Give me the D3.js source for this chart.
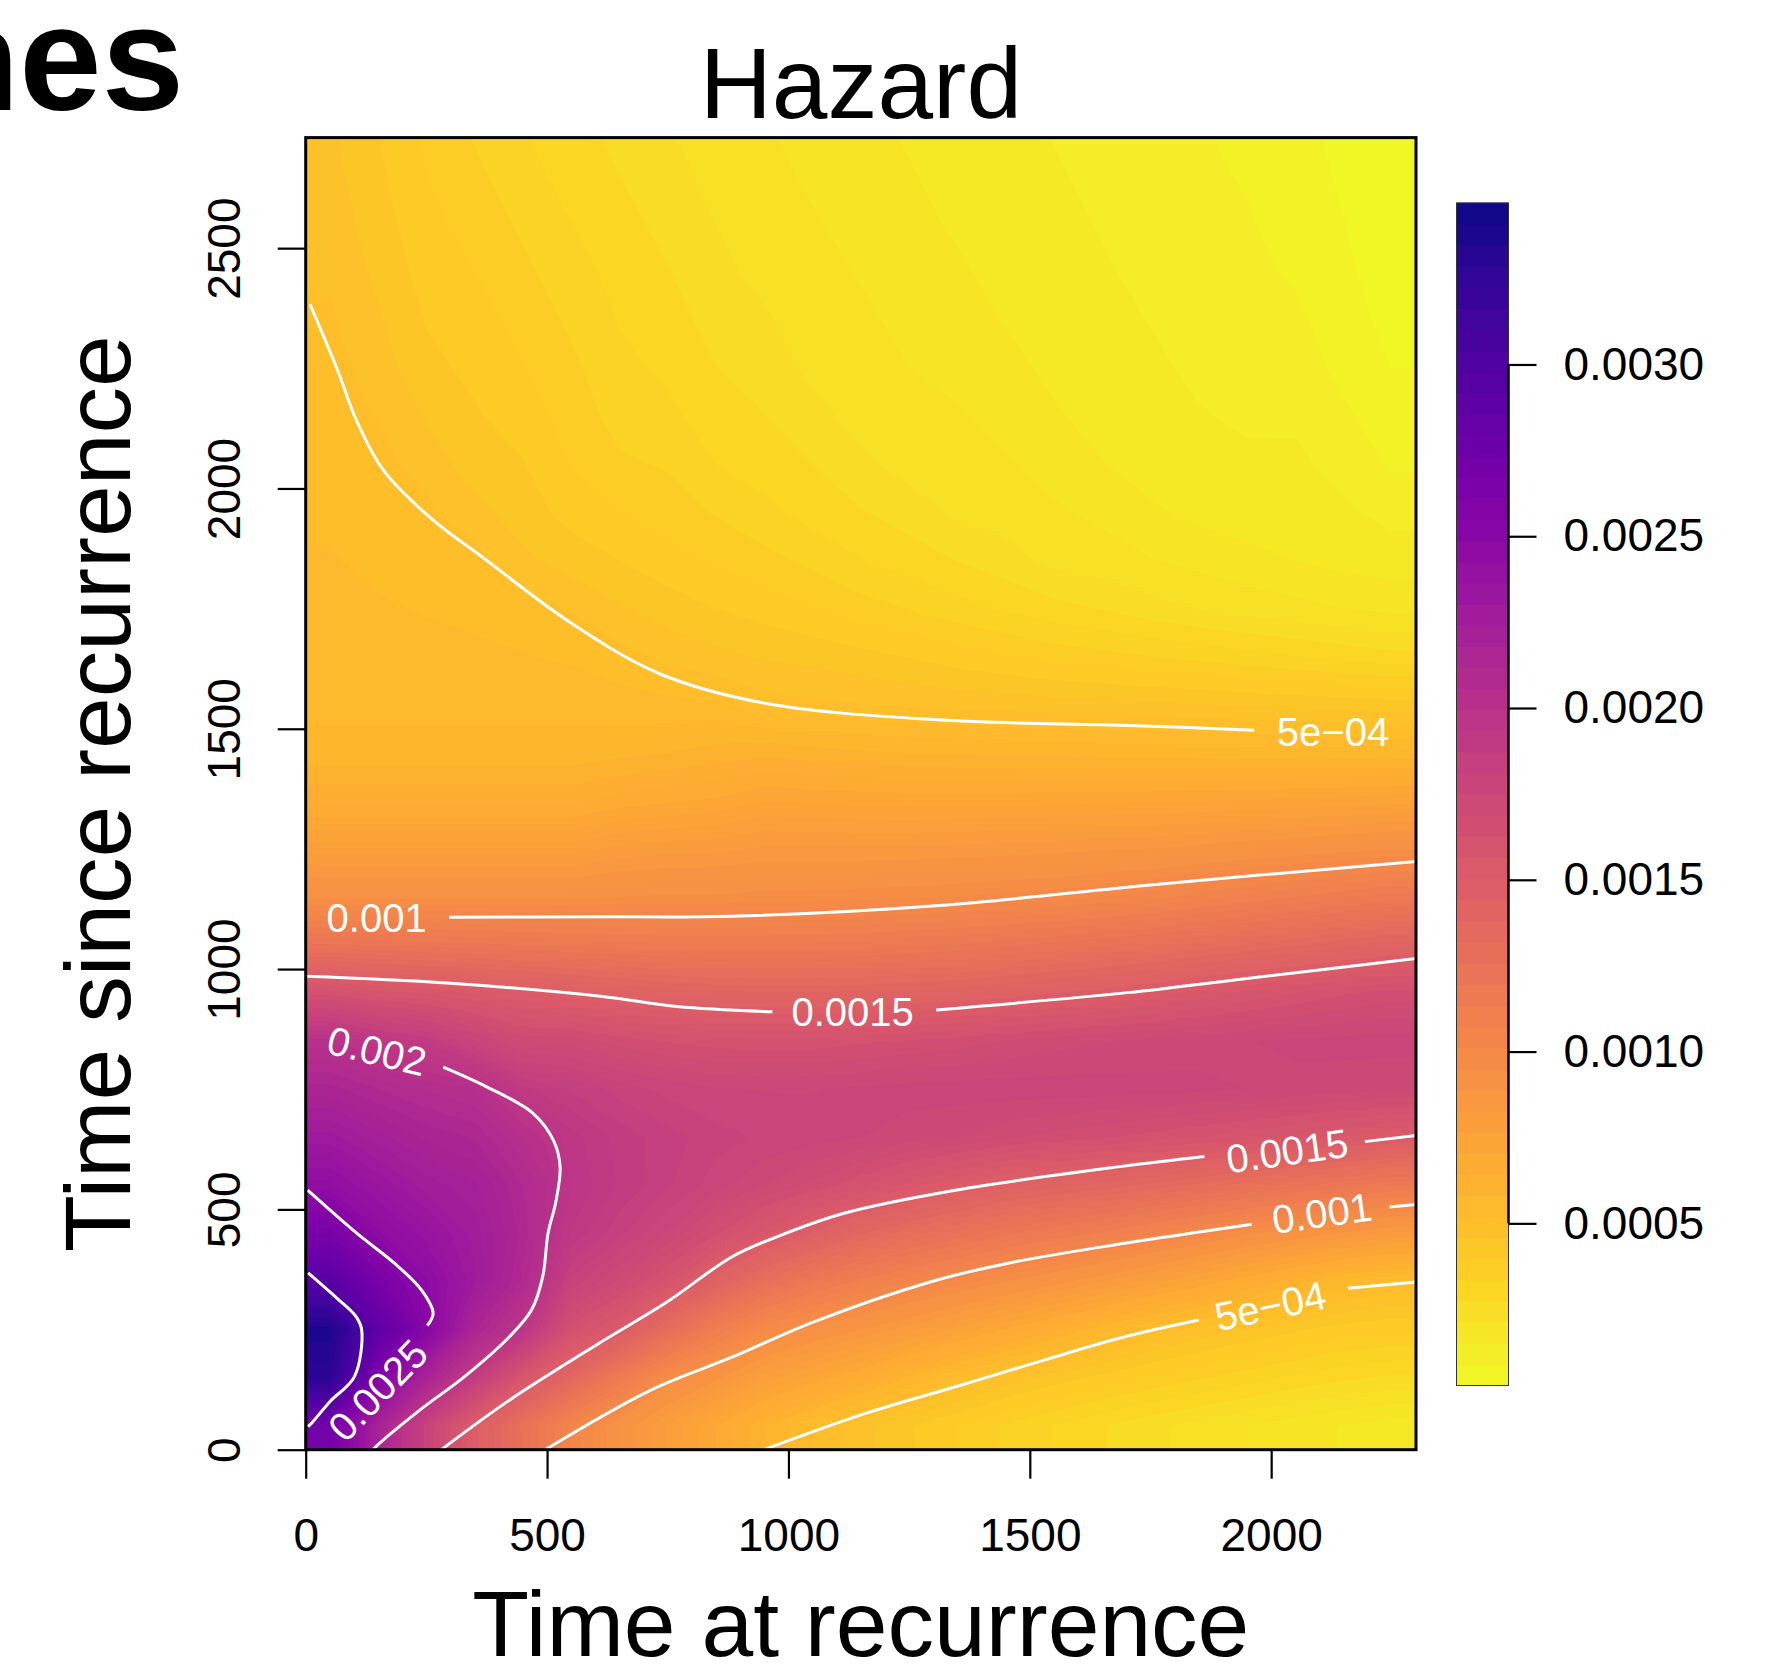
<!DOCTYPE html>
<html>
<head>
<meta charset="utf-8">
<script src="https://cdn.jsdelivr.net/npm/d3@7"></script>
<style>
  body { margin: 0; background: #fff; }
  svg text { font-family: "Liberation Sans", Arial, Helvetica, sans-serif; }
</style>
</head>
<body>
<svg id="chart" width="1769" height="1664"></svg>
<script>
// axis ranges and ticks
const xDomain = [0, 2300];
const yDomain = [0, 2730];
const xTicks = [0, 500, 1000, 1500, 2000];
const xTickLabels = ["0", "500", "1000", "1500", "2000"];
const yTicks = [0, 500, 1000, 1500, 2000, 2500];
const yTickLabels = ["0", "500", "1000", "1500", "2000", "2500"];

// hazard values are kept in units of 1e-4
const zRange = [0.28, 34.7];
const hazardTicks = [5, 10, 15, 20, 25, 30];
const hazardTickLabels = ["0.0005", "0.0010", "0.0015", "0.0020", "0.0025", "0.0030"];

// cell centres of the hazard grid
const gridX = [50, 150, 250, 350, 450, 550, 650, 750, 850, 950, 1050, 1150,
               1250, 1350, 1450, 1550, 1650, 1750, 1850, 1950, 2050, 2150, 2250];
const gridY = [2750, 2650, 2550, 2450, 2350, 2250, 2150, 2050, 1950, 1850, 1750, 1650, 1550, 1450,
               1350, 1250, 1150, 1050, 950, 850, 750, 650, 550, 450, 350, 250, 150, 50];

// one row per gridY entry (top to bottom), one value per gridX entry
const hazardRows = [
  [4.6, 4.2, 3.77, 3.45, 3.17, 2.91, 2.69, 2.47, 2.28, 2.13, 1.98, 1.84, 1.70, 1.58, 1.48, 1.38, 1.28, 1.17, 1.07, 0.97, 0.8, 0.6, 0.35],
  [4.68, 4.28, 3.85, 3.58, 3.3, 3.0, 2.8, 2.58, 2.34, 2.2, 2.05, 1.92, 1.78, 1.62, 1.53, 1.43, 1.33, 1.22, 1.12, 1.02, 0.86, 0.65, 0.4],
  [4.76, 4.37, 3.95, 3.72, 3.44, 3.16, 2.92, 2.7, 2.45, 2.27, 2.13, 2.0, 1.86, 1.7, 1.58, 1.48, 1.38, 1.27, 1.17, 1.08, 0.92, 0.71, 0.46],
  [4.85, 4.47, 4.06, 3.86, 3.58, 3.3, 3.03, 2.82, 2.56, 2.34, 2.2, 2.08, 1.94, 1.81, 1.62, 1.54, 1.43, 1.33, 1.22, 1.14, 1.0, 0.77, 0.52],
  [4.95, 4.6, 4.18, 4.0, 3.72, 3.44, 3.13, 2.94, 2.68, 2.5, 2.27, 2.16, 2.02, 1.92, 1.73, 1.6, 1.49, 1.39, 1.28, 1.2, 1.13, 0.84, 0.6],
  [5.03, 4.73, 4.3, 4.12, 3.88, 3.58, 3.25, 3.07, 2.81, 2.65, 2.36, 2.24, 2.1, 2.03, 1.87, 1.66, 1.55, 1.45, 1.35, 1.28, 1.24, 0.95, 0.7],
  [5.09, 4.88, 4.52, 4.24, 4.05, 3.68, 3.38, 3.25, 2.95, 2.81, 2.58, 2.31, 2.2, 2.13, 2.0, 1.8, 1.61, 1.52, 1.42, 1.36, 1.35, 1.12, 0.82],
  [5.15, 5.02, 4.75, 4.38, 4.22, 3.83, 3.55, 3.47, 3.15, 2.97, 2.8, 2.53, 2.32, 2.24, 2.14, 1.98, 1.77, 1.6, 1.5, 1.45, 1.46, 1.3, 1.0],
  [5.21, 5.1, 4.99, 4.66, 4.38, 4.07, 3.86, 3.66, 3.47, 3.25, 3.01, 2.83, 2.64, 2.38, 2.28, 2.15, 2.02, 1.81, 1.66, 1.56, 1.57, 1.47, 1.29],
  [5.27, 5.19, 5.11, 5.02, 4.63, 4.39, 4.2, 3.99, 3.8, 3.61, 3.41, 3.17, 2.98, 2.79, 2.6, 2.34, 2.26, 2.12, 2.0, 1.87, 1.75, 1.64, 1.57],
  [5.33, 5.28, 5.23, 5.17, 5.08, 4.88, 4.59, 4.37, 4.2, 4.05, 3.86, 3.64, 3.48, 3.28, 3.1, 2.92, 2.78, 2.58, 2.43, 2.3, 2.21, 2.1, 2.02],
  [5.39, 5.37, 5.34, 5.32, 5.27, 5.2, 5.04, 4.82, 4.65, 4.51, 4.44, 4.32, 4.18, 4.02, 3.88, 3.72, 3.62, 3.51, 3.4, 3.28, 3.16, 3.03, 2.92],
  [5.47, 5.47, 5.47, 5.47, 5.47, 5.47, 5.4, 5.35, 5.3, 5.04, 4.97, 4.91, 4.85, 4.8, 4.76, 4.71, 4.67, 4.62, 4.57, 4.52, 4.46, 4.41, 4.34],
  [5.75, 5.75, 5.75, 5.75, 5.75, 5.75, 5.85, 5.95, 6.1, 6.2, 6.1, 6.02, 5.94, 5.91, 5.87, 5.85, 5.83, 5.81, 5.78, 5.74, 5.73, 5.71, 5.71],
  [6.55, 6.55, 6.55, 6.55, 6.55, 6.55, 6.8, 6.95, 7.05, 7.34, 7.28, 7.23, 7.2, 7.21, 7.22, 7.24, 7.26, 7.29, 7.33, 7.38, 7.44, 7.5, 7.57],
  [7.87, 7.87, 7.87, 7.87, 7.87, 7.87, 8.15, 8.25, 8.3, 8.47, 8.45, 8.45, 8.46, 8.51, 8.56, 8.63, 8.7, 8.76, 8.88, 9.02, 9.15, 9.29, 9.44],
  [9.33, 9.33, 9.33, 9.33, 9.33, 9.33, 9.45, 9.5, 9.5, 9.6, 9.62, 9.66, 9.72, 9.81, 9.91, 10.0, 10.2, 10.38, 10.67, 10.95, 11.2, 11.46, 11.72],
  [12.3, 12.2, 12.1, 12.0, 11.9, 11.8, 11.7, 11.6, 11.6, 11.6, 11.63, 11.7, 11.82, 11.96, 12.15, 12.36, 12.56, 12.76, 13.05, 13.33, 13.6, 13.9, 14.19],
  [16.3, 15.9, 15.7, 15.35, 15.1, 14.8, 14.5, 14.25, 14.1, 14.05, 14.04, 14.08, 14.16, 14.26, 14.47, 14.7, 14.9, 15.18, 15.51, 15.82, 16.1, 16.38, 16.6],
  [20.1, 19.3, 18.8, 17.9, 17.0, 17.0, 16.65, 16.4, 16.26, 16.23, 16.25, 16.37, 16.49, 16.62, 16.83, 17.0, 17.13, 17.26, 17.38, 17.49, 17.57, 17.63, 17.67],
  [21.5, 21.0, 20.6, 20.3, 19.0, 18.5, 18.04, 17.73, 17.54, 17.48, 17.48, 17.57, 17.64, 17.68, 17.7, 17.69, 17.67, 17.63, 17.58, 17.5, 17.41, 17.3, 17.18],
  [22.9, 22.2, 21.6, 21.3, 20.3, 19.4, 18.77, 18.35, 18.0, 17.79, 17.63, 17.5, 17.33, 17.15, 16.87, 16.67, 16.5, 16.3, 16.09, 15.87, 15.64, 15.37, 15.12],
  [24.3, 23.4, 22.6, 22.1, 21.0, 19.6, 18.85, 18.26, 17.65, 17.16, 16.7, 16.15, 15.58, 15.01, 14.47, 14.16, 13.87, 13.54, 13.17, 12.75, 12.38, 12.0, 11.62],
  [26.5, 24.6, 23.6, 22.6, 21.2, 19.2, 18.28, 17.47, 16.49, 15.59, 14.66, 13.7, 13.03, 12.5, 11.96, 11.54, 11.1, 10.61, 10.06, 9.52, 9.11, 8.67, 8.31],
  [29.4, 26.6, 24.6, 22.8, 20.9, 18.1, 17.06, 15.97, 14.34, 12.8, 11.8, 11.1, 10.5, 9.98, 9.46, 8.95, 8.4, 7.85, 7.28, 6.69, 6.13, 5.51, 5.19],
  [33.8, 28.8, 25.2, 21.4, 19.6, 16.3, 15.18, 13.05, 11.2, 9.9, 9.28, 8.76, 8.18, 7.6, 6.98, 6.38, 5.74, 5.14, 4.78, 4.52, 4.26, 4.03, 3.91],
  [33.0, 25.9, 21.7, 18.7, 15.8, 13.7, 11.6, 9.7, 8.86, 7.9, 7.27, 6.62, 5.91, 5.24, 4.74, 4.41, 4.09, 3.8, 3.55, 3.31, 3.08, 2.88, 2.74],
  [27.0, 21.8, 18.0, 14.9, 12.6, 10.4, 9.1, 8.0, 7.0, 6.0, 5.26, 4.68, 4.24, 3.84, 3.45, 3.14, 2.83, 2.53, 2.32, 2.1, 1.89, 1.73, 1.58]
];

// contour lines, [time at recurrence, time since recurrence]
// split where the labels sit
const iso05Upper = [[9, 2383], [66, 2246], [105, 2142], [161, 2038], [264, 1934], [365, 1858],
                    [541, 1726], [732, 1615], [952, 1553], [1320, 1518], [1703, 1507], [1965, 1497]];
const iso10Upper = [[297, 1108], [600, 1109], [879, 1110], [1320, 1133], [1760, 1176], [2300, 1224]];
const iso15UpperA = [[0, 985], [292, 971], [615, 943], [769, 922], [967, 911]];
const iso15UpperB = [[1306, 915], [1703, 951], [1937, 979], [2300, 1022]];
const iso20 = [[285, 796], [375, 755], [471, 700], [513, 644], [527, 589], [518, 515], [502, 450],
               [491, 360], [468, 291], [422, 235], [329, 152], [237, 83], [145, 6], [140, 0]];
const iso25 = [[4, 540], [105, 451], [185, 387], [240, 332], [264, 284], [252, 258]];
const iso30 = [[5, 368], [65, 315], [105, 276], [116, 249], [101, 152], [50, 100], [13, 56], [5, 48]];
const iso15LowerA = [[281, 0], [422, 103], [607, 221], [745, 305], [884, 402], [976, 443], [1115, 492],
                     [1346, 540], [1687, 589], [1862, 610]];
const iso15LowerB = [[2194, 641], [2300, 654]];
const iso10LowerA = [[496, 0], [715, 124], [884, 193], [1050, 265], [1290, 348], [1455, 388],
                     [1650, 422], [1960, 469]];
const iso10LowerB = [[2245, 505], [2300, 510]];
const iso05LowerA = [[949, 0], [1161, 76], [1346, 131], [1531, 187], [1700, 236], [1850, 270]];
const iso05LowerB = [[2159, 336], [2300, 349]];

const isoLines = [iso05Upper, iso10Upper, iso15UpperA, iso15UpperB, iso20, iso25, iso30,
                  iso15LowerA, iso15LowerB, iso10LowerA, iso10LowerB, iso05LowerA, iso05LowerB];

// [text, x, y, angle]
const isoLabels = [
  ["5e\u221204", 2128, 1495, 0],
  ["0.001", 147, 1108, 0],
  ["0.0015", 1133, 911, 0],
  ["0.002", 148, 830, 13.5],
  ["0.0025", 149, 124, -46],
  ["0.0015", 2033, 622, -8],
  ["0.001", 2105, 493, -8],
  ["5e\u221204", 1998, 300, -12]
];

const svg = d3.select("#chart");
svg.append("rect").attr("width", 1769).attr("height", 1664).attr("fill", "#fff");

const x = d3.scaleLinear().domain(xDomain).range([305.7, 1416]);
const y = d3.scaleLinear().domain(yDomain).range([1449.7, 137.6]);
const color = d3.scaleSequential(t => d3.interpolatePlasma(1 - t)).domain(zRange);

svg.append("clipPath").attr("id", "plotClip")
  .append("rect")
  .attr("x", x(xDomain[0])).attr("y", y(yDomain[1]))
  .attr("width", x(xDomain[1]) - x(xDomain[0]))
  .attr("height", y(yDomain[0]) - y(yDomain[1]));

const plot = svg.append("g").attr("clip-path", "url(#plotClip)");

// heat surface as stacked filled contour bands;
// the grid gets one repeated edge ring so the band outlines don't cut the corners
const nx = gridX.length, ny = gridY.length;
const step = gridX[1] - gridX[0];
const rowsUp = hazardRows.slice().reverse();
const values = [];
for (let j = -1; j <= ny; j++) {
  const row = rowsUp[Math.max(0, Math.min(ny - 1, j))];
  for (let i = -1; i <= nx; i++) values.push(row[Math.max(0, Math.min(nx - 1, i))]);
}
const gx0 = gridX[0] - step * 1.5;
const gy0 = gridY[ny - 1] - step * 1.5;
const proj = d3.geoTransform({
  point(px, py) { this.stream.point(x(gx0 + px * step), y(gy0 + py * step)); }
});
const geo = d3.geoPath(proj);
const bandStep = 0.35;
const bands = d3.contours()
  .size([nx + 2, ny + 2])
  .thresholds(d3.range(0, zRange[1] + bandStep, bandStep))(values);

plot.selectAll("path.band")
  .data(bands)
  .join("path")
  .attr("class", "band")
  .attr("d", geo)
  .attr("fill", d => color(d.value + bandStep / 2));

// contour lines
const line = d3.line()
  .x(d => x(d[0]))
  .y(d => y(d[1]))
  .curve(d3.curveCatmullRom.alpha(0.5));

plot.selectAll("path.iso")
  .data(isoLines)
  .join("path")
  .attr("class", "iso")
  .attr("d", line)
  .attr("fill", "none")
  .attr("stroke", "#fff")
  .attr("stroke-width", 3);

plot.selectAll("text.iso")
  .data(isoLabels)
  .join("text")
  .attr("class", "iso")
  .attr("transform", d => `translate(${x(d[1])},${y(d[2])}) rotate(${d[3]})`)
  .attr("text-anchor", "middle")
  .attr("dy", "0.36em")
  .attr("fill", "#fff")
  .attr("font-size", 40)
  .text(d => d[0]);

// frame
svg.append("rect")
  .attr("x", x(xDomain[0])).attr("y", y(yDomain[1]))
  .attr("width", x(xDomain[1]) - x(xDomain[0]))
  .attr("height", y(yDomain[0]) - y(yDomain[1]))
  .attr("fill", "none")
  .attr("stroke", "#000")
  .attr("stroke-width", 3);

// x axis
svg.append("g")
  .attr("transform", `translate(0,${y(0)})`)
  .call(d3.axisBottom(x).tickValues(xTicks).tickSize(29).tickPadding(40)
    .tickFormat((d, i) => xTickLabels[i]))
  .call(g => g.select(".domain").remove())
  .call(g => g.selectAll("line").attr("stroke-width", 2.2))
  .call(g => g.selectAll("text").attr("font-size", 46).attr("fill", "#000")
    .style("font-family", '"Liberation Sans", Arial, sans-serif'));

// y axis, labels turned like R does
svg.append("g")
  .attr("transform", `translate(${x(0)},0)`)
  .call(d3.axisLeft(y).tickValues(yTicks).tickSize(28)
    .tickFormat((d, i) => yTickLabels[i]))
  .call(g => g.select(".domain").remove())
  .call(g => g.selectAll("line").attr("stroke-width", 2.2))
  .call(g => g.selectAll("text")
    .attr("x", null).attr("dy", null)
    .attr("text-anchor", "middle")
    .attr("transform", "translate(-66,0) rotate(-90)")
    .attr("font-size", 46).attr("fill", "#000")
    .style("font-family", '"Liberation Sans", Arial, sans-serif'));

// colour bar
const cbX = 1456.5, cbW = 52;
const cbar = d3.scaleLinear().domain(zRange).range([1385.5, 203]);
const nSwatch = 56;
const swStep = (zRange[1] - zRange[0]) / nSwatch;
const swatches = d3.range(nSwatch).map(i => zRange[0] + i * swStep);

svg.append("g")
  .selectAll("rect")
  .data(swatches)
  .join("rect")
  .attr("x", cbX)
  .attr("width", cbW)
  .attr("y", d => cbar(d + swStep) - 0.4)
  .attr("height", d => cbar(d) - cbar(d + swStep) + 0.8)
  .attr("fill", d => color(d + swStep / 2));

svg.append("rect")
  .attr("x", cbX).attr("y", cbar(zRange[1]))
  .attr("width", cbW).attr("height", cbar(zRange[0]) - cbar(zRange[1]))
  .attr("fill", "none").attr("stroke", "#333").attr("stroke-width", 1);

svg.append("g")
  .attr("transform", `translate(${cbX + cbW},0)`)
  .call(d3.axisRight(cbar).tickValues(hazardTicks).tickSize(28).tickPadding(27)
    .tickFormat((d, i) => hazardTickLabels[i]))
  .call(g => g.select(".domain").remove())
  .call(g => g.selectAll("line").attr("stroke-width", 2.2))
  .call(g => g.selectAll("text").attr("font-size", 46).attr("fill", "#000")
    .style("font-family", '"Liberation Sans", Arial, sans-serif'))
  .call(g => g.append("line")
    .attr("y1", cbar(hazardTicks[0])).attr("y2", cbar(hazardTicks[hazardTicks.length - 1]))
    .attr("stroke", "#000").attr("stroke-width", 2.5));

// titles
svg.append("text")
  .attr("x", (x(xDomain[0]) + x(xDomain[1])) / 2).attr("y", 118)
  .attr("text-anchor", "middle").attr("font-size", 100)
  .text("Hazard");

svg.append("text")
  .attr("x", (x(xDomain[0]) + x(xDomain[1])) / 2).attr("y", 1656)
  .attr("text-anchor", "middle").attr("font-size", 93)
  .text("Time at recurrence");

svg.append("text")
  .attr("transform", `translate(130,${(y(yDomain[0]) + y(yDomain[1])) / 2}) rotate(-90)`)
  .attr("text-anchor", "middle").attr("font-size", 93)
  .text("Time since recurrence");

// cut-off heading from the neighbouring panel
svg.append("text")
  .attr("x", 184).attr("y", 110)
  .attr("text-anchor", "end").attr("font-size", 148).attr("font-weight", "bold")
  .text("nes");
</script>
</body>
</html>
